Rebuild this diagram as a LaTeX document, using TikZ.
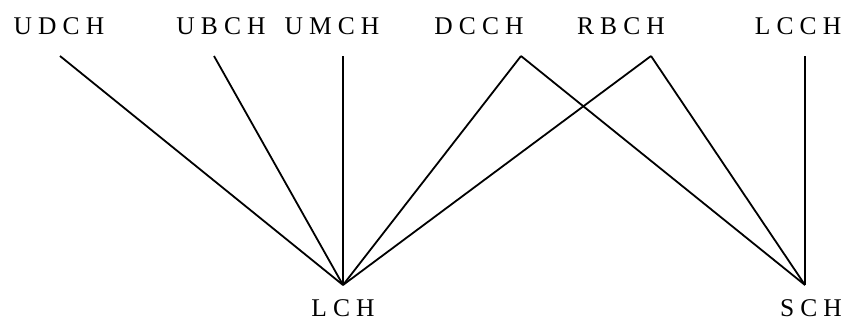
\documentclass[tikz,border=0pt]{standalone}
\usepackage{fontspec}
\newfontfamily\hierfont[LetterSpace=24]{Liberation Serif}
\usetikzlibrary{positioning}
\tikzset{%
	hier/.style = {font=\hierfont\fontsize{25.5}{30}\selectfont, anchor=base, inner sep=0pt},
	link/.style = {line width=1.8pt},
}
\begin{document}
\begin{tikzpicture}[x=1pt,y=-1pt]
	\useasboundingbox (0,0) rectangle (845,324);
	% labels
	\node[hier] (udch) at (59,34) {UDCH};
	\node[hier] (ubch) at (221,34) {UBCH};
	\node[hier] (umch) at (332,34) {UMCH};
	\node[hier] (dcch) at (479,34) {DCCH};
	\node[hier] (rbch) at (621,34) {RBCH};
	\node[hier] (lcch) at (798,34) {LCCH};
	\node[hier] (lch) at (343,316) {LCH};
	\node[hier] (sch) at (811,316) {SCH};
	% line ends
	\coordinate (pUD) at (60,56);
	\coordinate (pUB) at (214,56);
	\coordinate (pUM) at (343,56);
	\coordinate (pDC) at (521,56);
	\coordinate (pRB) at (651,56);
	\coordinate (pLC) at (805,56);
	\coordinate (pL) at (343,285);
	\coordinate (pS) at (805,285);
	% links
	\draw[link] (pUD) -- (pL);
	\draw[link] (pUB) -- (pL);
	\draw[link] (pUM) -- (pL);
	\draw[link] (pDC) -- (pL);
	\draw[link] (pRB) -- (pL);
	\draw[link] (pDC) -- (pS);
	\draw[link] (pRB) -- (pS);
	\draw[link] (pLC) -- (pS);
\end{tikzpicture}
\end{document}
